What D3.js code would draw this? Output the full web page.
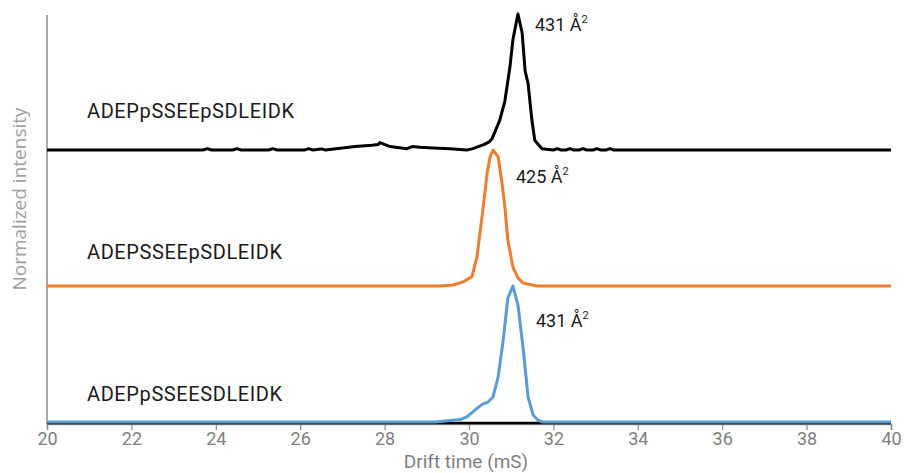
<!DOCTYPE html>
<html>
<head>
<meta charset="utf-8">
<script src="https://cdn.jsdelivr.net/npm/d3@7"></script>
<style>
  html, body { margin: 0; padding: 0; background: #fff; }
  svg { display: block; }
</style>
</head>
<body>
<svg id="chart" width="906" height="473"></svg>
<script>
// Peptide names, stacked from top to bottom
const peptides = ["ADEPpSSEEpSDLEIDK", "ADEPSSEEpSDLEIDK", "ADEPpSSEESDLEIDK"];
const ccsLabels = ["431 Å", "425 Å", "431 Å"];
const seriesColors = ["#000000", "#ED7D31", "#5B9BD5"];
const xTicks = [20, 22, 24, 26, 28, 30, 32, 34, 36, 38, 40];

// Drift times (ms) and normalized intensities for each arrival-time distribution
const driftA = [20, 23.7, 23.8, 23.9, 24.4, 24.5, 24.6, 25.25, 25.35, 25.45, 26.1, 26.2, 26.3, 26.5, 26.6,
  26.85, 27.3, 27.7, 27.85, 27.89, 28.13, 28.53, 28.65, 28.84, 29.15, 29.55, 29.95, 30.09, 30.35, 30.48,
  30.55, 30.73, 30.85, 30.97, 31.04, 31.16, 31.26, 31.33, 31.40, 31.49, 31.56, 31.73,
  32.0, 32.09, 32.18, 32.3, 32.39, 32.48, 32.61, 32.70, 32.79, 32.94, 33.03, 33.12, 33.25, 33.34, 33.43, 40];
const intensityA = [0, 0, 0.01, 0, 0, 0.01, 0, 0, 0.01, 0, 0, 0.01, 0, 0.008, 0,
  0.01, 0.025, 0.035, 0.04, 0.055, 0.025, 0.01, 0.025, 0.02, 0.015, 0.01, 0, 0.01, 0.04, 0.06,
  0.085, 0.22, 0.36, 0.61, 0.81, 1.0, 0.86, 0.58, 0.49, 0.22, 0.07, 0.01,
  0, 0.01, 0, 0, 0.01, 0, 0, 0.01, 0, 0, 0.01, 0, 0, 0.01, 0, 0];

const driftB = [20, 29.3, 29.62, 29.86, 30.07, 30.19, 30.31, 30.43, 30.50, 30.57, 30.69, 30.78, 30.85,
  30.92, 31.04, 31.16, 31.28, 31.61, 40];
const intensityB = [0, 0, 0.007, 0.03, 0.069, 0.216, 0.51, 0.83, 0.95, 1.0, 0.95, 0.76, 0.58,
  0.34, 0.14, 0.06, 0.022, 0, 0];

const driftC = [20, 29.2, 29.43, 29.79, 29.95, 30.09, 30.31, 30.45, 30.57, 30.69, 30.81, 30.92, 31.04,
  31.16, 31.28, 31.40, 31.52, 31.64, 31.75, 40];
const intensityC = [0, 0, 0.007, 0.018, 0.037, 0.074, 0.13, 0.147, 0.184, 0.33, 0.60, 0.91, 1.0,
  0.86, 0.55, 0.184, 0.05, 0.013, 0, 0];

// Zero-intensity reference trace sitting on the lowest baseline
const driftRef = [20, 40];
const intensityRef = [0, 0];

const traces = [
  { x: driftA, y: intensityA, offset: 2 },
  { x: driftB, y: intensityB, offset: 1 },
  { x: driftC, y: intensityC, offset: 0 }
];

const svg = d3.select("#chart");
const left = 47, right = 891, axisY = 424;

const x = d3.scaleLinear().domain([20, 40]).range([left, right]);
const y = d3.scaleLinear().domain([0, 3]).range([422, 14]);

// Axes
const xAxis = d3.axisBottom(x).tickValues(xTicks).tickSize(6).tickPadding(2).tickFormat(d3.format("d"));
const gx = svg.append("g").attr("transform", `translate(0,${axisY})`).call(xAxis);
gx.select(".domain").attr("stroke", "#8c8c8c").attr("stroke-width", 1.5);
gx.selectAll(".tick line").attr("stroke", "#8c8c8c").attr("stroke-width", 1.2);
gx.selectAll(".tick text")
  .attr("fill", "#7f7f7f")
  .style("font-family", "Roboto, sans-serif")
  .style("font-size", "18px");

svg.append("line")
  .attr("x1", left).attr("x2", left)
  .attr("y1", 15).attr("y2", axisY)
  .attr("stroke", "#8c8c8c").attr("stroke-width", 1.5);

svg.append("text")
  .attr("x", 466)
  .attr("y", 468)
  .attr("text-anchor", "middle")
  .attr("fill", "#7f7f7f")
  .style("font-family", "Roboto, sans-serif")
  .style("font-size", "19px")
  .text("Drift time (mS)");

svg.append("text")
  .attr("transform", "translate(26,199) rotate(-90)")
  .attr("text-anchor", "middle")
  .attr("fill", "#a0a0a0")
  .style("font-family", "'Open Sans', sans-serif")
  .style("font-size", "19px")
  .text("Normalized intensity");

const line = (offset) => d3.line()
  .x(d => x(d[0]))
  .y(d => y(d[1] + offset))
  .curve(d3.curveLinear);

// Reference baseline under the bottom trace
svg.append("path")
  .datum(d3.zip(driftRef, intensityRef))
  .attr("fill", "none")
  .attr("stroke", "#000")
  .attr("stroke-width", 2.5)
  .attr("transform", "translate(0,1)")
  .attr("d", line(0));

traces.forEach((t, i) => {
  svg.append("path")
    .datum(d3.zip(t.x, t.y))
    .attr("fill", "none")
    .attr("stroke", seriesColors[i])
    .attr("stroke-width", 3)
    .attr("stroke-linejoin", "round")
    .attr("d", line(t.offset));
});

// Peptide names above each baseline
const nameBaselines = [118, 259, 401];
traces.forEach((t, i) => {
  svg.append("text")
    .attr("x", 87)
    .attr("y", nameBaselines[i])
    .attr("fill", "#1a1a1a")
    .style("font-family", "Roboto, sans-serif")
    .style("font-size", "20px")
    .style("letter-spacing", "0.6px")
    .text(peptides[i]);
});

// Collision cross-section labels beside each peak
const ccsPos = [[535, 31], [516, 183], [536, 327]];
ccsLabels.forEach((lab, i) => {
  const txt = svg.append("text")
    .attr("x", ccsPos[i][0])
    .attr("y", ccsPos[i][1])
    .attr("fill", "#1a1a1a")
    .style("font-family", "Roboto, sans-serif")
    .style("font-size", "18px")
    .text(lab);
  txt.append("tspan")
    .attr("dy", -8)
    .style("font-size", "11px")
    .text("2");
});
</script>
</body>
</html>
